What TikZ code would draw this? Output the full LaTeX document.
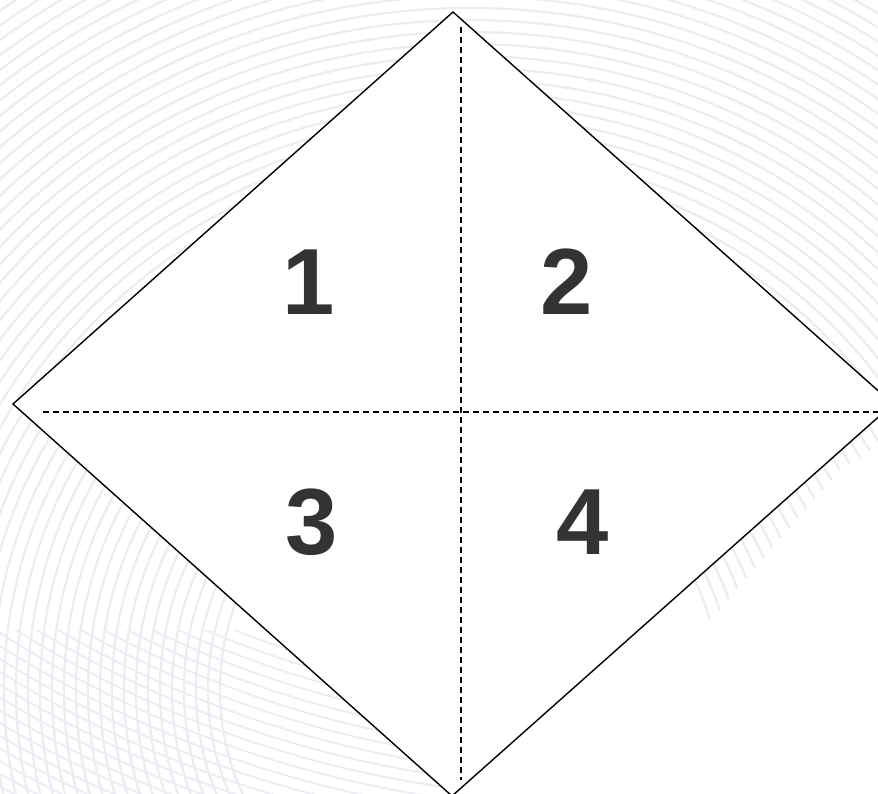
\documentclass[tikz,border=0pt]{standalone}
\usepackage{fontspec}
\setmainfont{Liberation Sans}
\definecolor{numgray}{HTML}{333333}
\definecolor{bgline}{HTML}{ECECF2}
\begin{document}
\begin{tikzpicture}[x=1pt,y=-1pt,
  edge/.style={draw=black,line width=1.4pt,line join=miter},
  fold/.style={draw=black,line width=1.4pt,dash pattern=on 6pt off 4pt},
  num/.style={text=numgray,inner sep=0pt,font=\fontsize{94}{94}\selectfont\bfseries},
  bgarc/.style={draw=bgline,line width=2.2pt}]
\useasboundingbox (0,0) rectangle (878,794);
\fill[white] (0,0) rectangle (878,794);
% faint background arcs
\begin{scope}
  \clip (0,0) -- (878,0) -- (878,445) -- (840,470) -- (560,794) -- (0,794) -- cycle;
  \foreach \r in {250,262,...,1100} {
    \draw[bgarc] (470,690) circle[radius=\r];
  }
\end{scope}
\begin{scope}
  \clip (0,630) rectangle (460,794);
  \foreach \r in {900,911,...,1350} {
    \draw[bgarc,line width=1.8pt] (600,-300) circle[radius=\r];
  }
\end{scope}
% diamond
\coordinate (T) at (453,12);
\coordinate (L) at (13,404);
\coordinate (B) at (452,796);
\coordinate (R) at (893,404);
\fill[white] (T) -- (R) -- (B) -- (L) -- cycle;
\draw[edge] (T) -- (R) -- (B) -- (L) -- cycle;
% fold lines
\coordinate (vt) at (461,27);
\coordinate (vb) at (461,780);
\coordinate (hl) at (43,412);
\coordinate (hr) at (880,412);
\draw[fold] (vt) -- (vb);
\draw[fold] (hl) -- (hr);
% numbers
\node[num] (n1) at (309,282.5) {1};
\node[num] (n2) at (566.5,282) {2};
\node[num] (n3) at (311.5,522.5) {3};
\node[num] (n4) at (582.5,522) {4};
\end{tikzpicture}
\end{document}
